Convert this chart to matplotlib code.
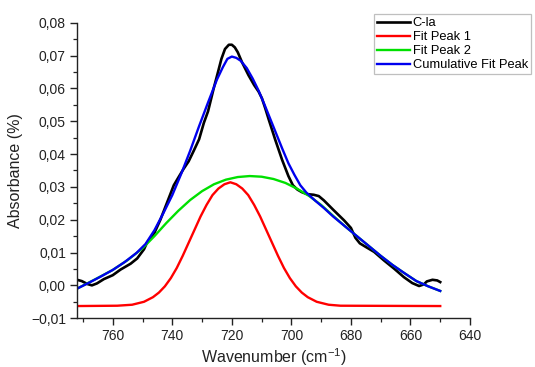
import matplotlib
matplotlib.use("Agg")
import matplotlib.pyplot as plt
from matplotlib.ticker import MultipleLocator, FixedLocator, FixedFormatter

plt.rcParams['font.family'] = ['Liberation Sans', 'DejaVu Sans']
plt.rcParams['mathtext.fontset'] = 'custom'
plt.rcParams['mathtext.rm'] = 'Liberation Sans'

# ---- data ----
cla_x = [772, 770.4, 768.5, 767, 765.3, 763, 760, 757.4, 754, 751.8, 749.5, 748.5, 746, 744,
         742.5, 741, 739.5, 738, 736.2, 734.5, 732.8, 731, 729.4, 728, 726.1, 724.5, 723.5,
         722.3, 721, 720, 719, 718, 716.6, 714.4, 712.5, 711, 709.9, 708.8, 707.6, 705.4,
         703.1, 701, 699.5, 698, 696.5, 694.8, 692.5, 690.8, 689.1, 685.8, 682.3, 680, 678.5,
         677, 675, 672.2, 668.9, 665.5, 662.2, 659.4, 657.1, 655.5, 654.5, 652.6, 651, 650]
cla_y = [0.0017, 0.0013, 0.0004, 0.0000, 0.0006, 0.0019, 0.0031, 0.0048, 0.0066, 0.0082,
         0.0110, 0.0130, 0.0160, 0.0200, 0.0235, 0.0270, 0.0305, 0.0328, 0.0355, 0.0378,
         0.0410, 0.0445, 0.0495, 0.0530, 0.0600, 0.0655, 0.0690, 0.0720, 0.0733, 0.0733,
         0.0725, 0.0710, 0.0680, 0.0640, 0.0610, 0.0590, 0.0570, 0.0540, 0.0505, 0.0443,
         0.0382, 0.0333, 0.0305, 0.0292, 0.0284, 0.0278, 0.0276, 0.0272, 0.0259, 0.0229,
         0.0198, 0.0175, 0.0145, 0.0128, 0.0117, 0.0102, 0.0076, 0.0051, 0.0025, 0.0007,
         -0.0002, 0.0003, 0.0012, 0.0017, 0.0015, 0.0010]

peak1_x = [772, 758.5, 753.5, 749.5, 746.5, 744.5, 742.5, 740.5, 738.5, 736.5, 734.5, 732.5,
           730.5, 728.5, 726.5, 724.5, 722.5, 720.5, 718.5, 716.5, 714.5, 712.5, 710.5, 708.5,
           706.5, 704.5, 702.5, 700.5, 698.5, 696.5, 694.5, 691.5, 687.5, 683.5, 650]
peak1_y = [-0.0063, -0.0062, -0.0059, -0.0050, -0.0036, -0.0022, -0.0003, 0.0022, 0.0053,
           0.0090, 0.0130, 0.0170, 0.0210, 0.0245, 0.0275, 0.0295, 0.0308, 0.0314, 0.0308,
           0.0295, 0.0275, 0.0245, 0.0210, 0.0170, 0.0130, 0.0090, 0.0053, 0.0022, -0.0003,
           -0.0022, -0.0036, -0.0050, -0.0059, -0.0062, -0.0063]

peak2_x = [772, 766, 760, 755, 750, 746, 742, 738, 734, 730, 726, 722, 718, 714, 710, 706,
           702, 698, 694, 690, 686, 682, 678, 674, 670, 666, 662, 658, 654, 650]
peak2_y = [-0.0010, 0.0018, 0.0047, 0.0077, 0.0113, 0.0150, 0.0190, 0.0227, 0.0260, 0.0287,
           0.0308, 0.0322, 0.0330, 0.0333, 0.0331, 0.0324, 0.0312, 0.0294, 0.0272, 0.0245,
           0.0212, 0.0180, 0.0150, 0.0120, 0.0090, 0.0062, 0.0037, 0.0013, -0.0003, -0.0017]

cum_x = [772, 768, 764, 760, 756, 752, 749, 746, 743, 740, 737, 734, 731, 728, 725, 723,
         721.5, 720, 718.5, 717, 715, 713, 711, 709, 707, 705, 703, 701, 699, 697, 695, 692,
         689, 686, 682, 678, 674, 670, 666, 662, 658, 654, 650]
cum_y = [-0.0010, 0.0008, 0.0027, 0.0047, 0.0071, 0.0099, 0.0126, 0.0168, 0.0220, 0.0275,
         0.0340, 0.0410, 0.0485, 0.0557, 0.0627, 0.0665, 0.0690, 0.0697, 0.0693, 0.0684,
         0.0662, 0.0630, 0.0593, 0.0550, 0.0505, 0.0460, 0.0415, 0.0372, 0.0337, 0.0305,
         0.0283, 0.0258, 0.0235, 0.0210, 0.0180, 0.0150, 0.0120, 0.0090, 0.0062, 0.0037,
         0.0013, -0.0003, -0.0017]

x_ticks = [760, 740, 720, 700, 680, 660, 640]
x_tick_labels = ['760', '740', '720', '700', '680', '660', '640']
y_ticks = [-0.01, 0.00, 0.01, 0.02, 0.03, 0.04, 0.05, 0.06, 0.07, 0.08]
y_tick_labels = ['\u22120,01', '0,00', '0,01', '0,02', '0,03', '0,04', '0,05', '0,06',
                 '0,07', '0,08']
series_labels = ['C-la', 'Fit Peak 1', 'Fit Peak 2', 'Cumulative Fit Peak']

# ---- figure ----
fig = plt.figure(figsize=(5.35, 3.67), dpi=100)
ax = fig.add_axes([0.144, 0.133, 0.7345, 0.805])

l1, = ax.plot(cla_x, cla_y, color='black', lw=1.9, solid_joinstyle='round')
l2, = ax.plot(peak1_x, peak1_y, color='#ff0000', lw=1.7)
l3, = ax.plot(peak2_x, peak2_y, color='#00e000', lw=1.7)
l4, = ax.plot(cum_x, cum_y, color='#0000ee', lw=1.7)

ax.set_xlim(772, 640)
ax.set_ylim(-0.01, 0.08)

ax.xaxis.set_major_locator(FixedLocator(x_ticks))
ax.xaxis.set_major_formatter(FixedFormatter(x_tick_labels))
ax.xaxis.set_minor_locator(MultipleLocator(10))
ax.yaxis.set_major_locator(FixedLocator(y_ticks))
ax.yaxis.set_major_formatter(FixedFormatter(y_tick_labels))
ax.yaxis.set_minor_locator(MultipleLocator(0.005))

for s in ['top', 'right']:
    ax.spines[s].set_visible(False)
for s in ['left', 'bottom']:
    ax.spines[s].set_linewidth(1.0)
    ax.spines[s].set_color('#222222')

ax.tick_params(which='major', direction='out', length=5, width=1.0, labelsize=10,
               colors='#222222', labelcolor='#222222', pad=3)
ax.tick_params(which='minor', direction='out', length=3, width=0.9, colors='#222222')

ax.set_xlabel('Wavenumber (cm$^{\\mathregular{-1}}$)', fontsize=11.5, color='#222222',
              labelpad=2)
ax.set_ylabel('Absorbance (%)', fontsize=11.5, color='#222222', labelpad=6)

leg = fig.legend([l1, l2, l3, l4], series_labels, loc='upper left',
                 bbox_to_anchor=(374 / 535, 1 - 14 / 367), fontsize=9.3,
                 frameon=True, fancybox=False, shadow=False, borderaxespad=0,
                 borderpad=0.25, labelspacing=0.15, handlelength=2.5,
                 handletextpad=0.25)
leg.get_frame().set_edgecolor('#b0b0b0')
leg.get_frame().set_linewidth(0.9)

fig.savefig('out.png', dpi=100)
